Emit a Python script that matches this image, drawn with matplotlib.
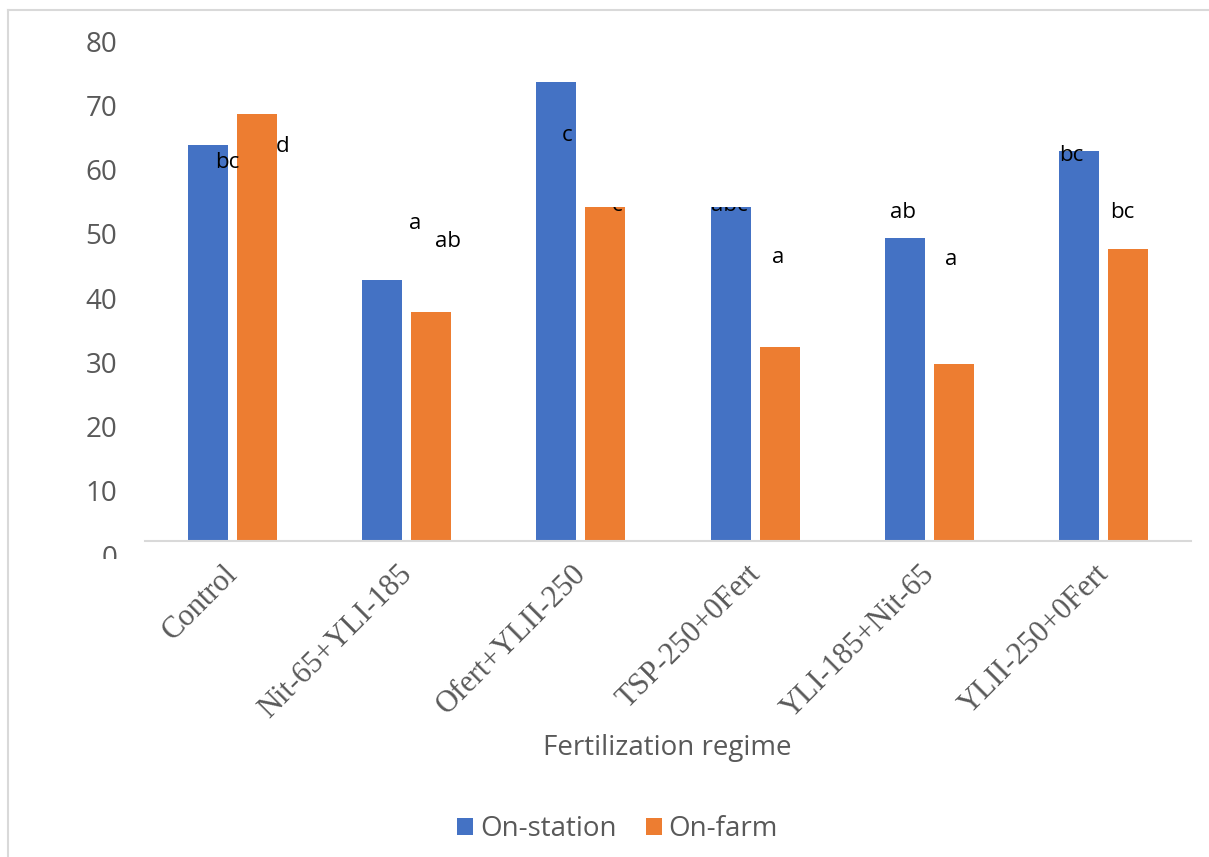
import matplotlib
matplotlib.use("Agg")
import matplotlib.pyplot as plt
import matplotlib.transforms as mtransforms
from matplotlib.lines import Line2D
import numpy as np

categories = ["Control", "Nit-65+YLI-185", "Ofert+YLII-250", "TSP-250+0Fert",
              "YLI-185+Nit-65", "YLII-250+0Fert"]
on_station = [61.7, 40.7, 71.5, 52.0, 47.2, 60.7]
on_farm = [66.5, 35.7, 52.0, 30.2, 27.5, 45.5]
letters_station = ["bc", "a", "c", "abc", "ab", "bc"]
letters_farm = ["d", "ab", "c", "a", "a", "bc"]
yticks = [0, 10, 20, 30, 40, 50, 60, 70, 80]

# letter positions (x offset from category, y in data units)
st_pos = [(-0.03, 59.0), (0.047, 49.4), (-0.081, 63.1), (-0.146, 52.3), (-0.153, 51.2), (-0.189, 60.0)]
fm_pos = [(0.29, 61.5), (0.236, 46.7), (0.209, 52.3), (0.133, 44.2), (0.125, 43.8), (0.104, 51.2)]
clip_station = [False, False, False, True, False, False]
clip_farm = [False, False, True, False, False, False]

BLUE = "#4472C4"
ORANGE = "#ED7D31"
GRAY = "#595959"
SANS = ["Open Sans", "DejaVu Sans"]

W, H = 1209, 857
fig = plt.figure(figsize=(W / 100, H / 100), dpi=100)

# figure frame
fig.add_artist(Line2D([7.5 / W, 1.0], [1 - 9.5 / H, 1 - 9.5 / H], transform=fig.transFigure,
                      color="#d9d9d9", lw=1.5))
fig.add_artist(Line2D([7.5 / W, 7.5 / W], [0, 1 - 9.5 / H], transform=fig.transFigure,
                      color="#d9d9d9", lw=1.5))

left, right = 145, 1191
bottom_px, top_px = 541, 27.4
ax = fig.add_axes([left / W, 1 - bottom_px / H, (right - left) / W, (bottom_px - top_px) / H])

x = np.arange(len(categories))
bw = 40 / 174.3
gap = 9 / 174.3
off = (bw + gap) / 2
ax.bar(x - off, on_station, width=bw, color=BLUE, label="On-station", zorder=2)
ax.bar(x + off, on_farm, width=bw, color=ORANGE, label="On-farm", zorder=2)

ax.set_xlim(-0.5, len(categories) - 0.5)
ax.set_ylim(0, 80)
for s in ["top", "right", "left"]:
    ax.spines[s].set_visible(False)
ax.spines["bottom"].set_color("#d9d9d9")
ax.spines["bottom"].set_linewidth(1.5)

# y ticks
ax.set_yticks(yticks)
ax.set_yticklabels([str(v) for v in yticks], family=SANS, fontsize=20, color=GRAY)
ax.tick_params(axis="y", length=0, pad=20)
yoff = mtransforms.ScaledTranslation(0, -14 / 100, fig.dpi_scale_trans)
for lab in ax.get_yticklabels():
    lab.set_transform(lab.get_transform() + yoff)

# x ticks
ax.set_xticks(x)
ax.set_xticklabels(categories, rotation=45, ha="right", va="top",
                   family=["Liberation Serif", "DejaVu Serif"], fontsize=22, color=GRAY)
ax.tick_params(axis="x", length=0, pad=13.5)
xoff = mtransforms.ScaledTranslation(11 / 100, 0, fig.dpi_scale_trans)
for lab in ax.get_xticklabels():
    lab.set_transform(lab.get_transform() + xoff)

fig.canvas.draw()

# clip the lowest y label like in the reference
clipbox = mtransforms.Bbox.from_extents(0, H - 559, W, H)
ylabs = ax.get_yticklabels()
ylabs[0].set_clip_box(clipbox)
ylabs[0].set_clip_on(True)

# letters
for i in range(len(categories)):
    for (dx, yy), txt, clip, barh in [
        (st_pos[i], letters_station[i], clip_station[i], on_station[i]),
        (fm_pos[i], letters_farm[i], clip_farm[i], on_farm[i]),
    ]:
        t = ax.text(x[i] + dx, yy, txt, ha="center", va="center", fontsize=16,
                    family=SANS, color="black", zorder=3)
        if clip:
            ytop = ax.transData.transform((0, barh))[1]
            t.set_clip_box(mtransforms.Bbox.from_extents(0, 0, W, ytop))
            t.set_clip_on(True)

fig.text(667 / W, 1 - 748 / H, "Fertilization regime", ha="center", va="center",
         family=SANS, fontsize=20, color=GRAY)

leg = fig.legend(loc="center", bbox_to_anchor=(617.5 / W, 1 - 829 / H), ncol=2, frameon=False,
                 prop={"family": SANS, "size": 20}, handlelength=0.58, handleheight=0.58,
                 handletextpad=0.25, columnspacing=1.05, labelcolor=GRAY)

fig.savefig("out.png", dpi=100)
